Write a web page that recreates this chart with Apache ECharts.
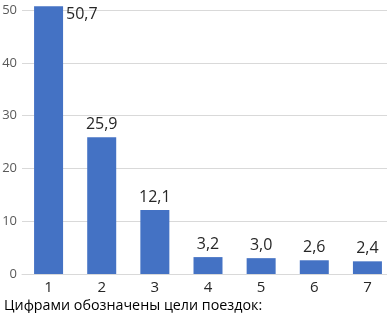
<!DOCTYPE html>
<html><head><meta charset="utf-8">
<script src="https://cdn.jsdelivr.net/npm/echarts@6/dist/echarts.min.js"></script>
<style>html,body{margin:0;padding:0;background:#fff}#c{width:387px;height:313px}</style>
</head><body><div id="c"></div>
<script>
var categories = ['1','2','3','4','5','6','7'];
var values = [50.7, 25.9, 12.1, 3.2, 3.0, 2.6, 2.4];
var yTicks = [0, 10, 20, 30, 40, 50];
var caption = 'Цифрами обозначены цели поездок:';

var chart = echarts.init(document.getElementById('c'));
var fmt = function(p){ return p.value.toFixed(1).replace('.', ','); };
chart.setOption({
  animation: false,
  textStyle: {fontFamily: 'Open Sans'},
  title: {text: caption, left: -1, bottom: -5, textStyle: {fontSize: 14.3, fontWeight: 'normal', color: '#000', fontFamily: 'Open Sans'}},
  grid: {left: 22, top: 10, bottom: 39, width: 372, containLabel: false, outerBoundsMode: 'none'},
  xAxis: {type: 'category', data: categories,
    axisLine: {lineStyle: {color: '#d9d9d9'}}, axisTick: {show: false},
    axisLabel: {color: '#262626', fontSize: 15, margin: 6}},
  yAxis: {type: 'value', min: yTicks[0], max: yTicks[yTicks.length-1], interval: 10,
    axisLine: {show: false}, axisTick: {show: false},
    splitLine: {lineStyle: {color: '#d9d9d9'}},
    axisLabel: {color: '#595959', fontSize: 13, margin: 5}},
  series: [{type: 'bar', clip: false, barWidth: 29,
    data: values.map(function(v, i){
      var o = {value: v};
      if (i === 0) o.label = {position: [32, 0]};
      return o;
    }),
    itemStyle: {color: '#4472C4'},
    label: {show: true, position: 'top', distance: 5, formatter: fmt, color: '#262626', fontSize: 16}
  }]
});
</script></body></html>
